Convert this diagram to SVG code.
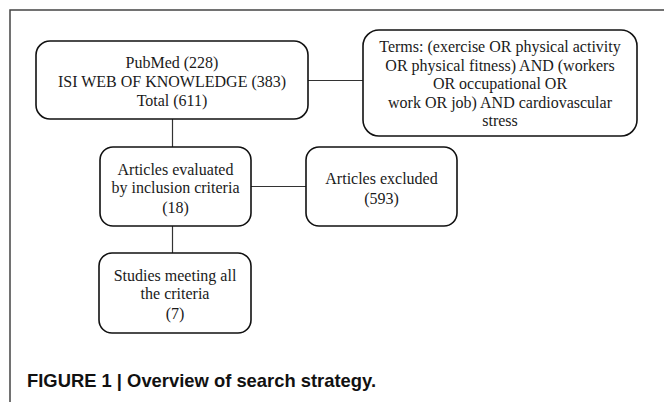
<svg xmlns="http://www.w3.org/2000/svg" width="664" height="402" viewBox="0 0 664 402">
<style>
.box{fill:#fff;stroke:#111;stroke-width:1.6}
.t{font-family:"Liberation Serif","Times New Roman",serif;font-size:16px;fill:#1a1a1a;text-anchor:middle}
.c{stroke:#333;stroke-width:1.2;fill:none}
.frame{stroke:#444;stroke-width:1.5;fill:none}
.cap{font-family:"Liberation Sans",Arial,sans-serif;font-weight:bold;font-size:19px;fill:#111}
</style>
<rect width="664" height="402" fill="#fff"/>
<path class="frame" d="M10,402 V10 H664"/>
<g id="connectors">
<line class="c" x1="172.5" y1="119" x2="172.5" y2="147"/>
<line class="c" x1="308" y1="80.5" x2="363" y2="80.5"/>
<line class="c" x1="251" y1="186.5" x2="306" y2="186.5"/>
<line class="c" x1="172.5" y1="226" x2="172.5" y2="253"/>
</g>
<g id="sources">
<rect class="box" x="36" y="41" width="272" height="78" rx="14"/>
<text class="t" x="172" y="67.5">PubMed (228)</text>
<text class="t" x="172" y="87">ISI WEB OF KNOWLEDGE (383)</text>
<text class="t" x="172" y="106">Total (611)</text>
</g>
<g id="terms">
<rect class="box" x="363" y="30" width="274" height="106" rx="16"/>
<text class="t" x="500" y="52">Terms: (exercise OR physical activity</text>
<text class="t" x="500" y="70.5">OR physical fitness) AND (workers</text>
<text class="t" x="500" y="89">OR occupational OR</text>
<text class="t" x="500" y="107.5">work OR job) AND cardiovascular</text>
<text class="t" x="500" y="126">stress</text>
</g>
<g id="evaluated">
<rect class="box" x="100" y="147" width="151" height="79" rx="13"/>
<text class="t" x="175.5" y="174.5">Articles evaluated</text>
<text class="t" x="175.5" y="193">by inclusion criteria</text>
<text class="t" x="175.5" y="212.5">(18)</text>
</g>
<g id="excluded">
<rect class="box" x="306" y="147" width="151" height="79" rx="13"/>
<text class="t" x="381.5" y="183.5">Articles excluded</text>
<text class="t" x="381.5" y="203.5">(593)</text>
</g>
<g id="studies">
<rect class="box" x="99" y="253" width="152" height="80" rx="13"/>
<text class="t" x="175" y="280.5">Studies meeting all</text>
<text class="t" x="175" y="299">the criteria</text>
<text class="t" x="175" y="318.5">(7)</text>
</g>
<text class="cap" x="27" y="386.5" textLength="349" lengthAdjust="spacingAndGlyphs">FIGURE 1 | Overview of search strategy.</text>
</svg>
